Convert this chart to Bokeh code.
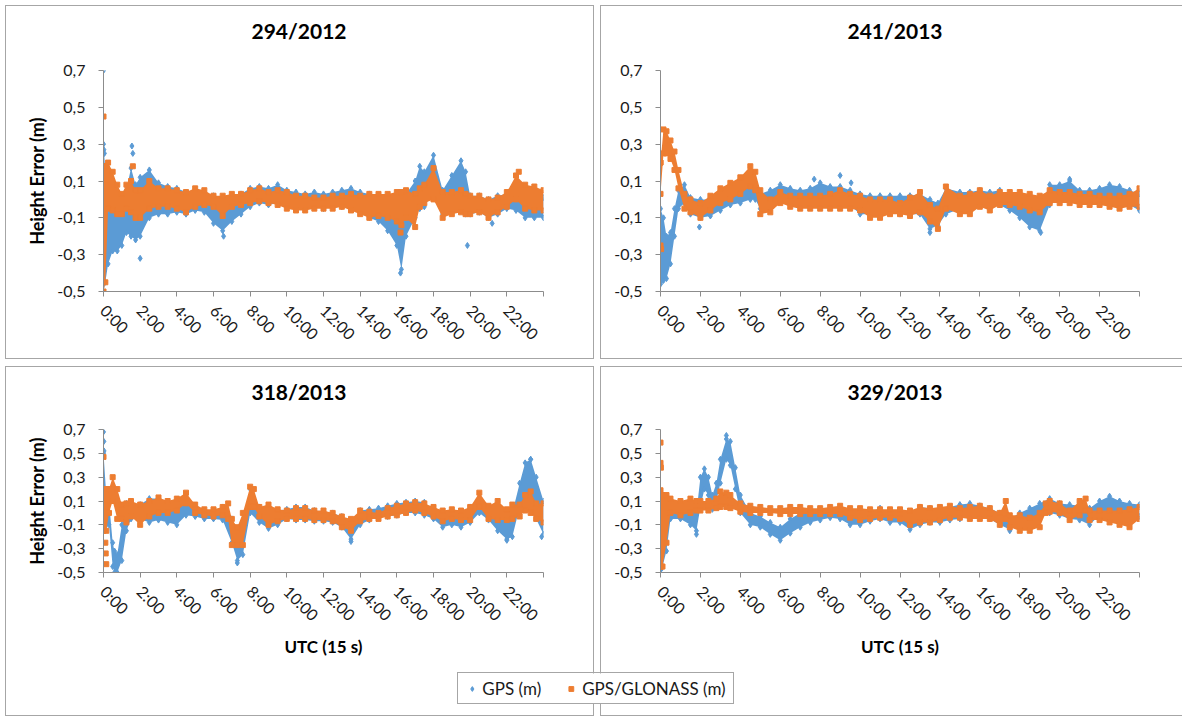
from bokeh.plotting import figure
from bokeh.models import ColumnDataSource, FixedTicker, Legend, LegendItem, Title
from bokeh.layouts import row, column
from bokeh.embed import file_html
from bokeh.resources import INLINE
import math

# ---------------- data ----------------
BLUE = "#5B9BD5"
ORANGE = "#ED7D31"
FONT = "Lato"

x_ticks = [0, 2, 4, 6, 8, 10, 12, 14, 16, 18, 20, 22, 24]
x_tick_labels = ["0:00", "2:00", "4:00", "6:00", "8:00", "10:00", "12:00", "14:00",
                 "16:00", "18:00", "20:00", "22:00", ""]
y_ticks = [-0.5, -0.3, -0.1, 0.1, 0.3, 0.5, 0.7]
y_tick_labels = ["-0,5", "-0,3", "-0,1", "0,1", "0,3", "0,5", "0,7"]

titles = ["294/2012", "241/2013", "318/2013", "329/2013"]
series_names = ["GPS (m)", "GPS/GLONASS (m)"]
y_title = "Height Error (m)"
x_title = "UTC (15 s)"

# ---- 294/2012 ----
a_gps_t = [0.0, 0.1, 0.25, 0.5, 0.75, 1.0, 1.25, 1.5, 1.75, 2.0, 2.5, 3.0, 3.5, 4.0, 4.5, 5.0, 5.5, 6.0, 6.5, 7.0, 7.5, 8.0, 8.5, 9.0, 9.5, 10.0, 10.5, 11.0, 11.5, 12.0, 12.5, 13.0, 13.5, 14.0, 14.5, 15.0, 15.5, 16.0, 16.25, 16.5, 17.0, 17.25, 17.5, 18.0, 18.5, 19.0, 19.5, 19.75, 20.0, 20.5, 21.0, 21.5, 22.0, 22.5, 23.0, 23.5, 24.0]
a_gps_lo = [-0.50, -0.45, -0.35, -0.28, -0.28, -0.25, -0.18, -0.20, -0.22, -0.20, -0.10, -0.08, -0.08, -0.07, -0.08, -0.06, -0.07, -0.13, -0.17, -0.12, -0.08, -0.04, -0.02, -0.03, -0.02, -0.04, -0.05, -0.05, -0.04, -0.05, -0.04, -0.04, -0.05, -0.07, -0.10, -0.12, -0.17, -0.25, -0.38, -0.20, -0.10, -0.05, -0.04, 0.05, -0.08, -0.05, -0.05, -0.08, -0.08, -0.07, -0.10, -0.08, -0.05, -0.06, -0.10, -0.10, -0.10]
a_gps_hi = [0.30, 0.15, 0.05, 0.03, 0.02, 0.00, 0.05, 0.17, 0.08, 0.12, 0.16, 0.09, 0.07, 0.06, 0.04, 0.05, 0.04, 0.02, 0.00, 0.02, 0.03, 0.06, 0.07, 0.06, 0.08, 0.05, 0.04, 0.03, 0.04, 0.03, 0.04, 0.05, 0.06, 0.04, 0.03, 0.02, 0.00, 0.00, 0.00, 0.03, 0.10, 0.18, 0.15, 0.24, 0.05, 0.13, 0.21, 0.15, 0.02, 0.02, 0.00, 0.02, 0.03, 0.04, 0.02, 0.02, 0.01]
a_glo_t = a_gps_t
a_glo_lo = [-0.50, -0.45, -0.05, -0.06, -0.08, -0.08, -0.05, -0.07, -0.10, -0.10, -0.05, -0.04, -0.04, -0.05, -0.07, -0.04, -0.03, -0.04, -0.09, -0.04, -0.03, -0.02, -0.01, -0.02, -0.03, -0.05, -0.06, -0.06, -0.05, -0.05, -0.05, -0.04, -0.06, -0.08, -0.10, -0.09, -0.10, -0.12, -0.14, -0.10, -0.15, -0.04, -0.02, 0.00, -0.10, -0.08, -0.07, -0.08, -0.08, -0.07, -0.10, -0.07, -0.04, 0.00, -0.05, -0.06, -0.06]
a_glo_hi = [0.18, 0.18, 0.20, 0.15, 0.08, 0.03, 0.08, 0.10, 0.05, 0.05, 0.10, 0.06, 0.06, 0.05, 0.04, 0.06, 0.05, 0.02, 0.02, 0.03, 0.03, 0.05, 0.06, 0.04, 0.05, 0.04, 0.02, 0.02, 0.01, 0.01, 0.02, 0.02, 0.03, 0.02, 0.03, 0.03, 0.03, 0.04, 0.04, 0.05, 0.03, 0.06, 0.08, 0.17, 0.04, 0.04, 0.05, 0.03, 0.02, 0.02, 0.00, 0.01, 0.04, 0.13, 0.08, 0.07, 0.05]
a_gps_out_t = [0.0, 0.02, 0.05, 1.55, 1.6, 2.0, 6.55, 16.2, 19.85, 21.2]
a_gps_out_y = [0.70, 0.27, 0.25, 0.29, 0.25, -0.32, -0.20, -0.40, -0.25, -0.13]
a_glo_out_t = [0.0, 0.02, 1.6, 16.2, 22.65]
a_glo_out_y = [0.45, 0.18, 0.18, -0.18, 0.15]

# ---- 241/2013 ----
b_gps_t = [0.0, 0.15, 0.3, 0.5, 0.7, 0.9, 1.2, 1.5, 2.0, 2.5, 3.0, 3.5, 4.0, 4.5, 4.75, 5.0, 5.5, 6.0, 6.5, 7.0, 7.5, 8.0, 8.5, 9.0, 9.5, 10.0, 10.5, 11.0, 11.5, 12.0, 12.5, 13.0, 13.5, 13.9, 14.3, 15.0, 15.5, 16.0, 16.5, 17.0, 17.5, 18.0, 18.5, 19.0, 19.5, 20.0, 20.5, 21.0, 21.5, 22.0, 22.5, 23.0, 23.5, 24.0]
b_gps_lo = [-0.45, -0.44, -0.43, -0.35, -0.20, -0.05, -0.02, -0.08, -0.10, -0.09, -0.06, -0.03, -0.02, 0.00, 0.00, -0.05, -0.02, 0.00, -0.02, -0.03, -0.02, 0.00, -0.01, -0.02, -0.03, -0.08, -0.08, -0.08, -0.07, -0.08, -0.08, -0.08, -0.16, -0.14, -0.08, -0.05, -0.04, -0.03, -0.04, -0.03, -0.06, -0.10, -0.15, -0.17, -0.03, 0.00, 0.01, -0.02, -0.02, -0.03, -0.01, -0.02, -0.03, -0.06]
b_gps_hi = [-0.05, -0.10, -0.20, -0.18, -0.05, 0.05, 0.08, 0.01, 0.00, 0.00, 0.02, 0.06, 0.08, 0.10, 0.08, 0.03, 0.05, 0.08, 0.06, 0.05, 0.06, 0.09, 0.07, 0.07, 0.05, 0.03, 0.02, 0.02, 0.02, 0.02, 0.02, 0.03, 0.00, -0.02, 0.06, 0.04, 0.04, 0.05, 0.04, 0.05, 0.02, 0.00, -0.03, -0.05, 0.08, 0.08, 0.10, 0.05, 0.05, 0.06, 0.08, 0.07, 0.05, 0.03]
b_glo_t = b_gps_t
b_glo_lo = [0.03, 0.25, 0.25, 0.22, 0.16, 0.06, -0.05, -0.07, -0.10, -0.06, -0.02, 0.00, 0.03, 0.07, 0.05, -0.08, -0.07, -0.02, -0.04, -0.05, -0.05, -0.05, -0.05, -0.05, -0.05, -0.06, -0.10, -0.10, -0.08, -0.08, -0.09, -0.07, -0.12, -0.16, -0.05, -0.08, -0.08, -0.04, -0.06, -0.03, -0.03, -0.04, -0.06, -0.07, -0.02, -0.02, -0.02, -0.03, -0.03, -0.03, -0.04, -0.05, -0.04, -0.04]
b_glo_hi = [0.20, 0.38, 0.37, 0.32, 0.26, 0.16, 0.03, 0.00, -0.02, 0.02, 0.06, 0.09, 0.12, 0.18, 0.15, 0.05, 0.00, 0.04, 0.02, 0.02, 0.02, 0.02, 0.03, 0.05, 0.03, 0.02, 0.00, 0.00, 0.00, -0.02, 0.01, 0.04, -0.03, -0.05, 0.07, 0.02, 0.03, 0.05, 0.02, 0.04, 0.04, 0.04, 0.03, 0.02, 0.05, 0.04, 0.04, 0.03, 0.03, 0.02, 0.02, 0.02, 0.03, 0.06]
b_gps_out_t = [0.0, 1.95, 7.7, 9.0, 9.55, 13.5, 19.05, 20.5]
b_gps_out_y = [-0.46, -0.15, 0.11, 0.13, 0.09, -0.18, -0.18, 0.11]
b_glo_out_t = [0.0, 0.03, 0.0]
b_glo_out_y = [-0.25, -0.27, 0.20]

# ---- 318/2013 ----
c_gps_t = [0.0, 0.15, 0.3, 0.5, 0.6, 0.75, 1.0, 1.25, 1.5, 2.0, 2.5, 3.0, 3.5, 4.0, 4.5, 5.0, 5.5, 6.0, 6.5, 7.0, 7.3, 7.6, 8.0, 8.5, 9.0, 9.5, 10.0, 10.5, 11.0, 11.5, 12.0, 12.5, 13.0, 13.5, 14.0, 14.5, 15.0, 15.5, 16.0, 16.5, 17.0, 17.5, 18.0, 18.5, 19.0, 19.5, 20.0, 20.5, 21.0, 21.5, 22.0, 22.3, 22.7, 23.0, 23.3, 23.6, 24.0]
c_gps_lo = [-0.10, -0.10, -0.10, -0.45, -0.50, -0.50, -0.40, -0.15, -0.05, -0.05, -0.08, -0.06, -0.08, -0.10, -0.02, -0.03, -0.05, -0.05, -0.06, -0.25, -0.40, -0.35, 0.00, -0.08, -0.13, -0.10, -0.05, -0.06, -0.06, -0.07, -0.07, -0.08, -0.12, -0.22, -0.10, -0.06, -0.03, -0.03, -0.02, 0.00, 0.00, -0.02, -0.05, -0.12, -0.10, -0.12, -0.08, 0.00, -0.06, -0.15, -0.22, -0.20, 0.05, 0.10, 0.05, -0.05, -0.18]
c_gps_hi = [0.50, 0.15, 0.10, -0.25, -0.32, -0.35, -0.10, 0.08, 0.08, 0.07, 0.12, 0.12, 0.10, 0.08, 0.15, 0.05, 0.02, 0.02, 0.05, -0.05, -0.20, -0.15, 0.20, 0.05, 0.03, 0.02, 0.03, 0.05, 0.05, 0.02, 0.01, 0.00, -0.03, -0.08, 0.02, 0.03, 0.04, 0.06, 0.08, 0.09, 0.10, 0.09, 0.02, -0.02, 0.02, 0.00, 0.05, 0.10, 0.05, 0.00, -0.05, 0.00, 0.25, 0.42, 0.45, 0.30, 0.10]
c_glo_t = [0.0, 0.15, 0.3, 0.5, 0.75, 1.0, 1.25, 1.5, 2.0, 2.5, 3.0, 3.5, 4.0, 4.5, 5.0, 5.5, 6.0, 6.5, 6.8, 7.0, 7.3, 7.6, 8.0, 8.2, 8.5, 9.0, 9.5, 10.0, 10.5, 11.0, 11.5, 12.0, 12.5, 13.0, 13.5, 14.0, 14.5, 15.0, 15.5, 16.0, 16.5, 17.0, 17.5, 18.0, 18.5, 19.0, 19.5, 20.0, 20.5, 21.0, 21.5, 22.0, 22.3, 22.7, 23.0, 23.3, 23.6, 24.0]
c_glo_lo = [-0.15, -0.15, 0.00, 0.10, -0.05, -0.05, -0.08, -0.03, -0.10, -0.03, 0.00, 0.00, 0.02, 0.08, 0.00, -0.02, -0.03, -0.02, -0.05, -0.27, -0.27, -0.27, 0.05, 0.05, -0.03, -0.10, -0.07, -0.05, -0.05, -0.05, -0.06, -0.06, -0.07, -0.12, -0.15, -0.07, -0.05, -0.05, -0.03, -0.02, 0.00, 0.02, 0.00, -0.03, -0.07, -0.05, -0.06, -0.06, 0.05, -0.05, -0.06, -0.06, -0.05, -0.03, 0.02, 0.00, -0.05, -0.08]
c_glo_hi = [0.20, 0.20, 0.20, 0.30, 0.20, 0.07, 0.08, 0.10, 0.07, 0.10, 0.13, 0.10, 0.12, 0.17, 0.07, 0.03, 0.03, 0.05, 0.08, -0.05, -0.12, 0.00, 0.22, 0.20, 0.05, 0.07, 0.03, 0.02, 0.04, 0.04, 0.02, 0.02, 0.00, -0.03, -0.05, 0.02, 0.01, 0.00, 0.04, 0.06, 0.08, 0.09, 0.08, 0.05, 0.02, 0.03, 0.02, 0.05, 0.17, 0.06, 0.10, 0.03, 0.07, 0.07, 0.15, 0.18, 0.08, 0.08]
c_gps_out_t = [0.0, 0.02, 0.03, 7.3, 13.5, 22.0, 23.3, 23.9]
c_gps_out_y = [0.68, 0.60, 0.52, -0.42, -0.24, -0.23, 0.45, -0.20]
c_glo_out_t = [0.0, 0.1, 0.12, 0.15]
c_glo_out_y = [0.47, -0.25, -0.34, -0.43]

# ---- 329/2013 ----
d_gps_t = [0.0, 0.1, 0.3, 0.5, 1.0, 1.5, 1.8, 2.0, 2.2, 2.4, 2.6, 2.8, 3.0, 3.3, 3.5, 3.75, 4.0, 4.5, 5.0, 5.5, 6.0, 6.5, 7.0, 7.5, 8.0, 8.5, 9.0, 9.5, 10.0, 10.5, 11.0, 11.5, 12.0, 12.5, 13.0, 13.5, 14.0, 14.5, 15.0, 15.5, 16.0, 16.5, 17.0, 17.5, 18.0, 18.5, 19.0, 19.5, 20.0, 20.5, 21.0, 21.5, 22.0, 22.5, 23.0, 23.5, 24.0]
d_gps_lo = [-0.48, -0.45, -0.32, -0.05, -0.05, -0.10, -0.15, 0.05, 0.20, 0.15, 0.03, 0.10, 0.25, 0.45, 0.40, 0.20, 0.00, -0.10, -0.12, -0.18, -0.23, -0.17, -0.12, -0.08, -0.06, -0.04, -0.05, -0.10, -0.10, -0.07, -0.05, -0.08, -0.08, -0.14, -0.10, -0.08, -0.08, -0.06, -0.05, -0.02, -0.03, -0.05, -0.10, -0.14, -0.10, -0.05, -0.03, 0.00, -0.02, -0.05, -0.06, -0.10, -0.02, 0.00, -0.05, -0.02, -0.03]
d_gps_hi = [0.05, -0.10, 0.00, 0.10, 0.07, 0.05, 0.00, 0.30, 0.37, 0.30, 0.15, 0.25, 0.45, 0.62, 0.60, 0.38, 0.15, 0.00, -0.03, -0.08, -0.12, -0.05, 0.00, 0.02, 0.02, 0.03, 0.03, 0.00, 0.00, 0.01, 0.04, 0.00, 0.02, -0.03, 0.05, 0.04, 0.03, 0.05, 0.07, 0.08, 0.06, 0.04, 0.00, -0.05, 0.00, 0.04, 0.08, 0.12, 0.08, 0.07, 0.06, 0.04, 0.10, 0.14, 0.10, 0.08, 0.07]
d_glo_t = [0.0, 0.1, 0.3, 0.5, 1.0, 1.5, 1.8, 2.0, 2.4, 2.8, 3.0, 3.3, 3.5, 4.0, 4.5, 5.0, 5.5, 6.0, 6.5, 7.0, 7.5, 8.0, 8.5, 9.0, 9.5, 10.0, 10.5, 11.0, 11.5, 12.0, 12.5, 13.0, 13.5, 14.0, 14.5, 15.0, 15.5, 16.0, 16.5, 17.0, 17.3, 17.5, 18.0, 18.5, 19.0, 19.3, 19.5, 20.0, 20.5, 21.0, 21.3, 21.5, 22.0, 22.5, 23.0, 23.5, 24.0]
d_glo_lo = [-0.45, -0.45, -0.25, 0.00, -0.02, 0.00, 0.02, 0.02, 0.02, 0.04, 0.05, 0.05, 0.04, 0.01, 0.00, 0.00, 0.00, -0.01, -0.01, -0.01, -0.01, -0.01, -0.01, -0.01, -0.04, -0.06, -0.05, -0.04, -0.04, -0.05, -0.10, -0.08, -0.08, -0.06, -0.04, -0.04, -0.05, -0.05, -0.05, -0.10, -0.05, -0.12, -0.15, -0.15, -0.12, 0.00, 0.01, 0.00, -0.06, -0.02, 0.02, -0.06, -0.06, -0.08, -0.10, -0.12, -0.05]
d_glo_hi = [0.15, 0.15, 0.15, 0.12, 0.10, 0.12, 0.10, 0.10, 0.10, 0.12, 0.18, 0.17, 0.15, 0.08, 0.06, 0.05, 0.04, 0.04, 0.05, 0.05, 0.04, 0.04, 0.05, 0.06, 0.04, 0.04, 0.03, 0.03, 0.03, 0.03, 0.02, 0.05, 0.04, 0.05, 0.06, 0.04, 0.05, 0.06, 0.04, 0.00, 0.10, -0.02, -0.02, -0.04, 0.00, 0.08, 0.10, 0.08, 0.02, 0.10, 0.12, 0.02, 0.02, 0.02, 0.02, 0.03, 0.05]
d_gps_out_t = [0.0, 1.8, 3.3, 17.5]
d_gps_out_y = [-0.48, -0.18, 0.65, -0.15]
d_glo_out_t = [0.0, 0.0, 0.02, 0.0, 0.05]
d_glo_out_y = [0.59, 0.42, 0.38, 0.19, -0.45]

# --------------- drawing ---------------
BORDER = {"box-shadow": "0 0 0 1px #a6a6a6"}


def make_panel(title, gps, glo, gps_out, glo_out, width, height, bl, br, bt, bb,
               title_offset, spacer_standoff, ylabel, xlabel):
    p = figure(width=width, height=height, x_range=(0, 24), y_range=(-0.5, 0.7),
               output_backend="svg", toolbar_location=None,
               min_border_left=bl, min_border_right=br, min_border_top=bt,
               min_border_bottom=bb, background_fill_color="white",
               border_fill_color="white", styles=BORDER)
    p.outline_line_color = None
    p.grid.visible = False
    p.title.text = title
    p.title.align = "left"
    p.title.text_font = FONT
    p.title.text_font_size = "21px"
    p.title.text_font_style = "bold"
    p.title.text_color = "#000000"
    p.title.offset = title_offset
    p.title.standoff = 10
    # blank spacer between the title and the plot area (pushes the title up)
    p.add_layout(Title(text=" ", text_font_size="10px", standoff=spacer_standoff), "above")

    for t, lo, hi, col, mk, sz in [(gps[0], gps[1], gps[2], BLUE, "diamond", 6),
                                   (glo[0], glo[1], glo[2], ORANGE, "square", 5)]:
        src = ColumnDataSource(dict(t=t, lo=lo, hi=hi))
        p.varea(x="t", y1="lo", y2="hi", source=src, fill_color=col)
        p.scatter(x="t", y="lo", source=src, marker=mk, size=sz, color=col)
        p.scatter(x="t", y="hi", source=src, marker=mk, size=sz, color=col)
        if col == BLUE:
            p.scatter(x=gps_out[0], y=gps_out[1], marker="diamond", size=6, color=BLUE)
        else:
            p.scatter(x=glo_out[0], y=glo_out[1], marker="square", size=5, color=ORANGE)

    for ax in (p.xaxis[0], p.yaxis[0]):
        ax.axis_line_color = "#8c8c8c"
        ax.major_tick_line_color = "#8c8c8c"
        ax.minor_tick_line_color = None
        ax.major_tick_out = 5
        ax.major_tick_in = 0
        ax.major_label_text_font = FONT
        ax.major_label_text_font_size = "16px"
        ax.major_label_text_color = "#1a1a1a"
        ax.axis_label_text_font = FONT
        ax.axis_label_text_font_style = "bold"
        ax.axis_label_text_font_size = "18px"
        ax.axis_label_text_color = "#000000"

    p.xaxis.ticker = FixedTicker(ticks=x_ticks)
    p.xaxis.major_label_overrides = dict(zip(x_ticks, x_tick_labels))
    p.xaxis.major_label_orientation = -math.pi / 4
    p.xaxis.major_label_standoff = 11
    p.yaxis.ticker = FixedTicker(ticks=y_ticks)
    p.yaxis.major_label_overrides = dict(zip(y_ticks, y_tick_labels))
    p.yaxis.major_label_standoff = 13
    if ylabel:
        p.yaxis.axis_label = ylabel
        p.yaxis.axis_label_standoff = 6
    if xlabel:
        p.xaxis.axis_label = xlabel
        p.xaxis.axis_label_text_font_size = "17px"
        p.xaxis.axis_label_standoff = 2
    return p


LW, RW, TH, BH = 587, 581, 352, 348
p1 = make_panel(titles[0], (a_gps_t, a_gps_lo, a_gps_hi), (a_glo_t, a_glo_lo, a_glo_hi),
                (a_gps_out_t, a_gps_out_y), (a_glo_out_t, a_glo_out_y),
                LW, TH, 97, 50, 64, 67, 148, 10, y_title, None)
p2 = make_panel(titles[1], (b_gps_t, b_gps_lo, b_gps_hi), (b_glo_t, b_glo_lo, b_glo_hi),
                (b_gps_out_t, b_gps_out_y), (b_glo_out_t, b_glo_out_y),
                RW, TH, 59, 43, 64, 67, 187, 10, None, None)
p3 = make_panel(titles[2], (c_gps_t, c_gps_lo, c_gps_hi), (c_glo_t, c_glo_lo, c_glo_hi),
                (c_gps_out_t, c_gps_out_y), (c_glo_out_t, c_glo_out_y),
                LW, BH, 97, 50, 62, 143, 148, 8, y_title, x_title)
p4 = make_panel(titles[3], (d_gps_t, d_gps_lo, d_gps_hi), (d_glo_t, d_glo_lo, d_glo_hi),
                (d_gps_out_t, d_gps_out_y), (d_glo_out_t, d_glo_out_y),
                RW, BH, 59, 43, 62, 143, 187, 8, None, x_title)

# legend box overlapping the two bottom panels
lg = figure(width=275, height=30, output_backend="svg", toolbar_location=None,
            x_range=(0, 1), y_range=(0, 1), x_axis_location=None, y_axis_location=None,
            min_border=0, background_fill_color="white", border_fill_color="white",
            styles=BORDER, margin=(-51, 0, 0, 452))
lg.outline_line_color = None
lg.grid.visible = False
r1 = lg.scatter(x=[5], y=[5], marker="diamond", size=11, color=BLUE)
r2 = lg.scatter(x=[5], y=[5], marker="square", size=10, color=ORANGE)
legend = Legend(items=[LegendItem(label=series_names[0], renderers=[r1]),
                       LegendItem(label=series_names[1], renderers=[r2])],
                orientation="horizontal", location="center", border_line_color=None,
                background_fill_alpha=0, label_text_font=FONT, label_text_font_size="17px",
                label_text_color="#1a1a1a", glyph_width=12, label_standoff=5, spacing=24,
                padding=0, margin=0)
lg.add_layout(legend, "center")

layout = column(row(p1, p2, spacing=8), row(p3, p4, spacing=8), lg, spacing=9,
                margin=(6, 0, 0, 6))

open("out.html", "w").write(file_html(layout, INLINE))
